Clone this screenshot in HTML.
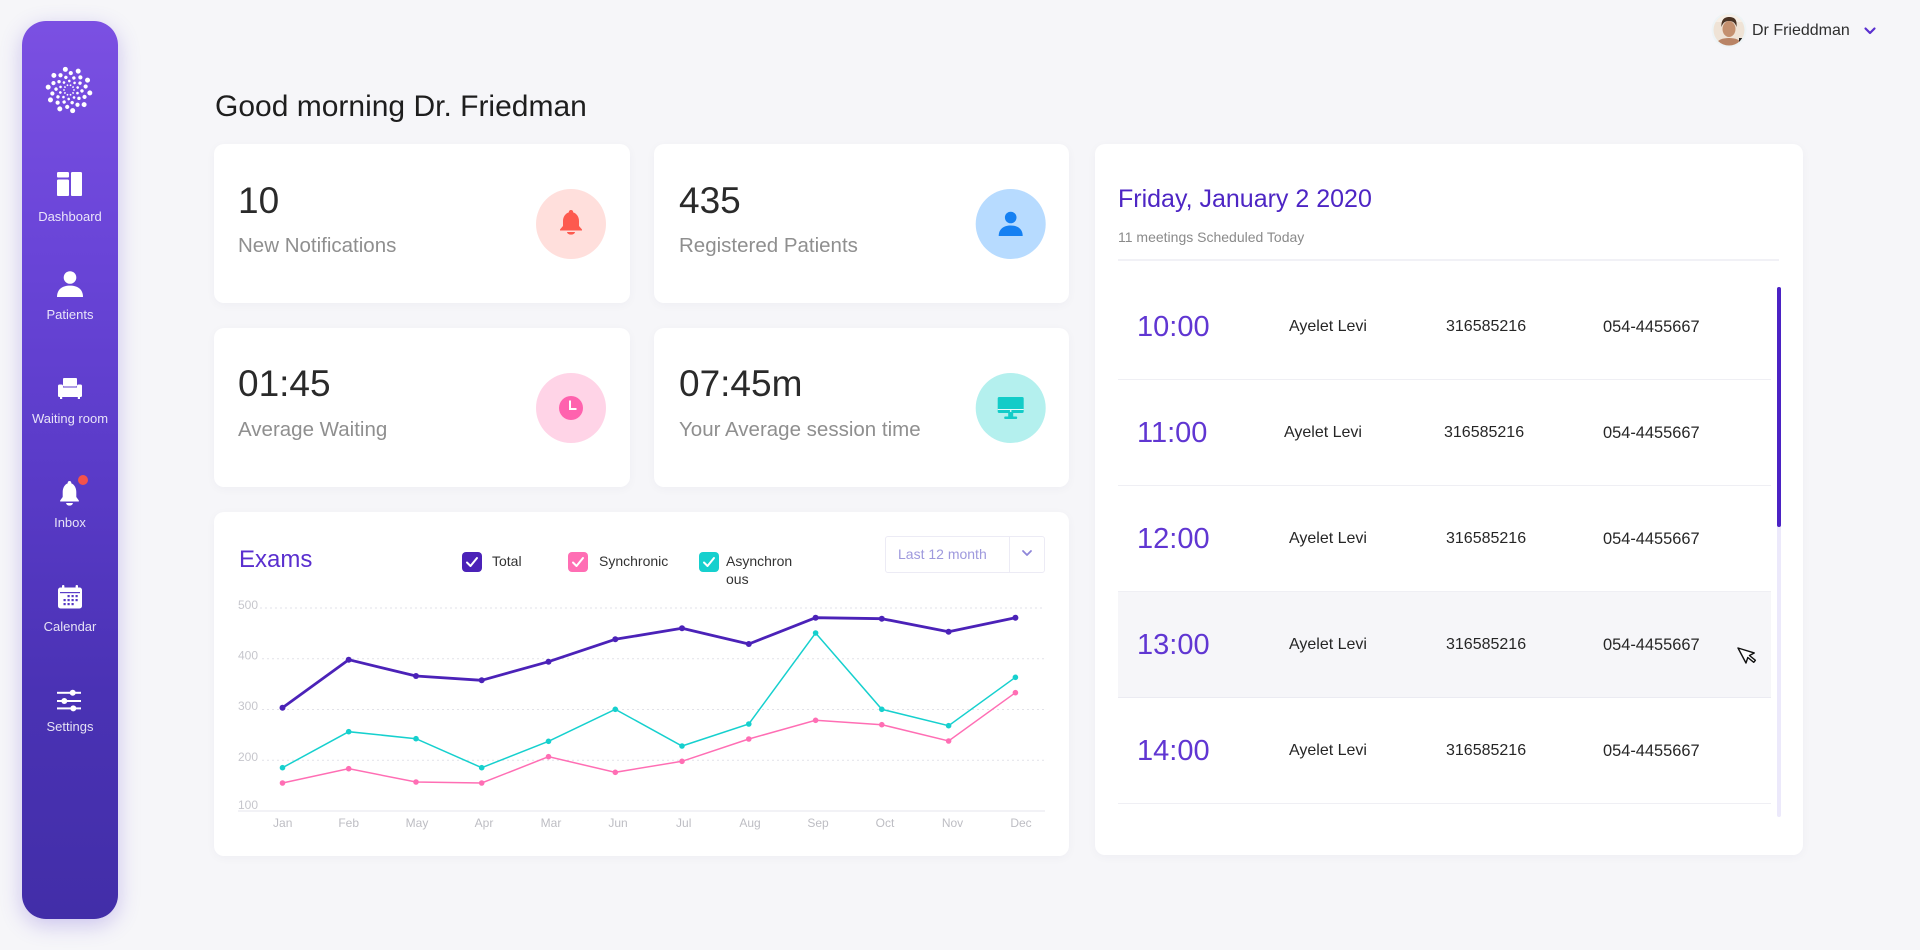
<!DOCTYPE html>
<html><head><meta charset="utf-8">
<style>
html,body{margin:0;padding:0;}
body{width:1920px;height:950px;background:#f6f6f9;position:relative;overflow:hidden;font-family:"Liberation Sans",Arial,sans-serif;}
.abs{position:absolute;}
.card{position:absolute;background:#fff;border-radius:10px;box-shadow:0 2px 10px rgba(40,40,80,0.035);}
.t{position:absolute;white-space:nowrap;line-height:1;}
.side{position:absolute;left:22px;top:21px;width:96px;height:898px;border-radius:24px;
 background:linear-gradient(180deg,#7b50e2 0%,#6a45d8 25%,#5a3bc8 50%,#4a32b4 75%,#422ea8 100%);
 box-shadow:0 6px 22px rgba(95,65,210,0.28);}
.sl{position:absolute;left:22px;width:96px;text-align:center;font-size:13px;color:rgba(255,255,255,0.86);line-height:1;}
.num{font-size:37px;color:#2a2a2a;}
.lab{font-size:20.5px;color:#8f8f8f;}
.time{font-size:29px;color:#6036d2;}
.nm{font-size:16px;color:#262626;}
.ph{font-size:16.4px;color:#262626;}
.leg{font-size:14px;color:#333;}
</style></head>
<body>
<div class="side"></div>

<!-- cards -->
<div class="card" style="left:214px;top:144px;width:416px;height:159px;"></div>
<div class="card" style="left:654px;top:144px;width:415px;height:159px;"></div>
<div class="card" style="left:214px;top:328px;width:416px;height:159px;"></div>
<div class="card" style="left:654px;top:328px;width:415px;height:159px;"></div>
<div class="card" style="left:214px;top:512px;width:855px;height:344px;"></div>
<div class="card" style="left:1095px;top:144px;width:708px;height:711px;"></div>

<!-- highlighted row -->
<div class="abs" style="left:1118px;top:591px;width:653px;height:106px;background:#f6f6f9;"></div>
<!-- row separators -->
<div class="abs" style="left:1118px;top:259px;width:661px;height:2px;background:#f1f1f6;"></div>
<div class="abs" style="left:1118px;top:379px;width:653px;height:1px;background:#efeff4;"></div>
<div class="abs" style="left:1118px;top:485px;width:653px;height:1px;background:#efeff4;"></div>
<div class="abs" style="left:1118px;top:591px;width:653px;height:1px;background:#efeff4;"></div>
<div class="abs" style="left:1118px;top:697px;width:653px;height:1px;background:#ebebf2;"></div>
<div class="abs" style="left:1118px;top:803px;width:653px;height:1px;background:#efeff4;"></div>
<!-- scrollbar -->
<div class="abs" style="left:1777px;top:287px;width:4px;height:530px;border-radius:2px;background:#ece9fb;"></div>
<div class="abs" style="left:1777px;top:287px;width:4px;height:240px;border-radius:2px;background:#4b22c4;"></div>

<!-- dropdown -->
<div class="abs" style="left:885px;top:536px;width:158px;height:35px;border:1px solid #ecebf5;border-radius:3px;background:#fff;"></div>
<div class="abs" style="left:1009px;top:537px;width:1px;height:35px;background:#ecebf5;"></div>

<svg class="abs" style="left:0;top:0;" width="1920" height="950" viewBox="0 0 1920 950">
 <!-- logo spiral -->
 <g transform="translate(69,90)" fill="#fff">
  <g><circle cx="5" cy="0" r="0.9"/><circle cx="8.46" cy="3.08" r="1.3"/><circle cx="9.96" cy="8.36" r="1.7"/><circle cx="8.5" cy="14.72" r="2.1"/><circle cx="3.65" cy="20.68" r="2.5"/></g>
  <g transform="rotate(36)"><circle cx="5" cy="0" r="0.9"/><circle cx="8.46" cy="3.08" r="1.3"/><circle cx="9.96" cy="8.36" r="1.7"/><circle cx="8.5" cy="14.72" r="2.1"/><circle cx="3.65" cy="20.68" r="2.5"/></g>
  <g transform="rotate(72)"><circle cx="5" cy="0" r="0.9"/><circle cx="8.46" cy="3.08" r="1.3"/><circle cx="9.96" cy="8.36" r="1.7"/><circle cx="8.5" cy="14.72" r="2.1"/><circle cx="3.65" cy="20.68" r="2.5"/></g>
  <g transform="rotate(108)"><circle cx="5" cy="0" r="0.9"/><circle cx="8.46" cy="3.08" r="1.3"/><circle cx="9.96" cy="8.36" r="1.7"/><circle cx="8.5" cy="14.72" r="2.1"/><circle cx="3.65" cy="20.68" r="2.5"/></g>
  <g transform="rotate(144)"><circle cx="5" cy="0" r="0.9"/><circle cx="8.46" cy="3.08" r="1.3"/><circle cx="9.96" cy="8.36" r="1.7"/><circle cx="8.5" cy="14.72" r="2.1"/><circle cx="3.65" cy="20.68" r="2.5"/></g>
  <g transform="rotate(180)"><circle cx="5" cy="0" r="0.9"/><circle cx="8.46" cy="3.08" r="1.3"/><circle cx="9.96" cy="8.36" r="1.7"/><circle cx="8.5" cy="14.72" r="2.1"/><circle cx="3.65" cy="20.68" r="2.5"/></g>
  <g transform="rotate(216)"><circle cx="5" cy="0" r="0.9"/><circle cx="8.46" cy="3.08" r="1.3"/><circle cx="9.96" cy="8.36" r="1.7"/><circle cx="8.5" cy="14.72" r="2.1"/><circle cx="3.65" cy="20.68" r="2.5"/></g>
  <g transform="rotate(252)"><circle cx="5" cy="0" r="0.9"/><circle cx="8.46" cy="3.08" r="1.3"/><circle cx="9.96" cy="8.36" r="1.7"/><circle cx="8.5" cy="14.72" r="2.1"/><circle cx="3.65" cy="20.68" r="2.5"/></g>
  <g transform="rotate(288)"><circle cx="5" cy="0" r="0.9"/><circle cx="8.46" cy="3.08" r="1.3"/><circle cx="9.96" cy="8.36" r="1.7"/><circle cx="8.5" cy="14.72" r="2.1"/><circle cx="3.65" cy="20.68" r="2.5"/></g>
  <g transform="rotate(324)"><circle cx="5" cy="0" r="0.9"/><circle cx="8.46" cy="3.08" r="1.3"/><circle cx="9.96" cy="8.36" r="1.7"/><circle cx="8.5" cy="14.72" r="2.1"/><circle cx="3.65" cy="20.68" r="2.5"/></g>
 </g>

 <!-- sidebar icons -->
 <g fill="#fff">
  <rect x="57" y="172" width="12" height="5.5" rx="1.3"/>
  <rect x="57" y="179.5" width="12" height="16.5" rx="1.3"/>
  <rect x="71" y="172" width="11" height="24" rx="1.3"/>
  <circle cx="70" cy="277.5" r="6.3"/>
  <path d="M57,297 C57,289.5 62,285.6 70,285.6 C78,285.6 83,289.5 83,297 Z"/>
  <rect x="63" y="378" width="14" height="8.5" rx="1"/>
  <rect x="58" y="387.5" width="24" height="9.5" rx="2"/>
  <rect x="58" y="384.5" width="5" height="12.5" rx="1.5"/>
  <rect x="77" y="384.5" width="5" height="12.5" rx="1.5"/>
  <rect x="60" y="396" width="2.2" height="3"/>
  <rect x="77.8" y="396" width="2.2" height="3"/>
  <g transform="translate(69.5,493) scale(0.85,1)">
   <path d="M0,-12 C1.4,-12 2.2,-11 2.2,-9.6 C5.8,-8.4 8,-5 8,-1 L8,4 L11,7.5 L11,8.5 L-11,8.5 L-11,7.5 L-8,4 L-8,-1 C-8,-5 -5.8,-8.4 -2.2,-9.6 C-2.2,-11 -1.4,-12 0,-12 Z"/>
   <path d="M-4,10 h8 a4,2.6 0 0 1 -8,0 z"/>
  </g>
  <rect x="58" y="587.5" width="24" height="21" rx="2.5"/>
  <rect x="62" y="585" width="2.4" height="5" rx="1"/>
  <rect x="75.6" y="585" width="2.4" height="5" rx="1"/>
  <rect x="57" y="691.8" width="24" height="2" />
  <rect x="57" y="700" width="24" height="2" />
  <rect x="57" y="707.4" width="24" height="2" />
  <circle cx="72.7" cy="692.8" r="3"/>
  <circle cx="64.3" cy="701" r="3"/>
  <circle cx="73.3" cy="708.4" r="3"/>
 </g>
 <g fill="#5436c4">
  <rect x="60" y="592" width="20" height="1.2" fill="#5a3cc8"/>
  <rect x="67.5" y="595" width="2.2" height="2.2"/><rect x="71.5" y="595" width="2.2" height="2.2"/><rect x="75.5" y="595" width="2.2" height="2.2"/>
  <rect x="63.5" y="599" width="2.2" height="2.2"/><rect x="67.5" y="599" width="2.2" height="2.2"/><rect x="71.5" y="599" width="2.2" height="2.2"/><rect x="75.5" y="599" width="2.2" height="2.2"/>
  <rect x="63.5" y="603" width="2.2" height="2.2"/><rect x="67.5" y="603" width="2.2" height="2.2"/><rect x="71.5" y="603" width="2.2" height="2.2"/>
 </g>
 <circle cx="83" cy="480" r="5" fill="#f4524a"/>

 <!-- header avatar -->
 <circle cx="1729" cy="30" r="17.5" fill="#eef4f6"/>
 <clipPath id="av"><circle cx="1729" cy="30" r="15.5"/></clipPath>
 <g clip-path="url(#av)">
  <rect x="1710" y="12" width="40" height="40" fill="#efe3d6"/>
  <rect x="1710" y="12" width="40" height="10" fill="#f7efe6"/>
  <path d="M1714,48 C1716,40 1722,38 1729,38 C1736,38 1742,40 1744,48 Z" fill="#b98466"/>
  <ellipse cx="1729" cy="29" rx="6.5" ry="8" fill="#c4906f"/>
  <path d="M1721.5,27 C1721,19 1725,17 1729,17 C1734,17 1737.5,19 1736.5,27 C1735,22 1732,21 1729,21 C1726,21 1723,22 1721.5,27 Z" fill="#4a3324"/>
  <rect x="1739" y="38" width="4" height="6" fill="#222"/>
 </g>
 <path d="M1865.5,28.5 L1870,33 L1874.5,28.5" fill="none" stroke="#5a2fcf" stroke-width="2.2" stroke-linecap="round" stroke-linejoin="round"/>

 <!-- stat icons -->
 <circle cx="571" cy="224" r="35" fill="#ffdfdc"/>
 <g transform="translate(571,222)" fill="#fd5a4f">
  <path d="M0,-12 C1.4,-12 2.2,-11 2.2,-9.6 C5.8,-8.4 8,-5 8,-1 L8,4 L11,7.5 L11,8.5 L-11,8.5 L-11,7.5 L-8,4 L-8,-1 C-8,-5 -5.8,-8.4 -2.2,-9.6 C-2.2,-11 -1.4,-12 0,-12 Z"/>
  <path d="M-4,10 h8 a4,2.6 0 0 1 -8,0 z"/>
 </g>
 <circle cx="1010.7" cy="224" r="35" fill="#b7dbff"/>
 <g fill="#1580f2">
  <circle cx="1010.7" cy="217.5" r="5.8"/>
  <path d="M998.7,236 C998.7,229 1003.7,225.5 1010.7,225.5 C1017.7,225.5 1022.7,229 1022.7,236 Z"/>
 </g>
 <circle cx="571" cy="408" r="35" fill="#ffd4e7"/>
 <circle cx="571" cy="408" r="12" fill="#ff62ae"/>
 <path d="M570,400.5 V409 H576.5" fill="none" stroke="#fff" stroke-width="2"/>
 <circle cx="1010.7" cy="408" r="35" fill="#b4f0ee"/>
 <g fill="#13ccc8">
  <rect x="997.7" y="397" width="26" height="16" rx="1.5"/>
  <rect x="1008.2" y="412" width="5" height="5"/>
  <rect x="1004.2" y="416.5" width="13" height="2.5" rx="1"/>
 </g>
 <rect x="997.7" y="409" width="26" height="1" fill="#e8fbfa"/>
 <circle cx="1010.7" cy="411" r="0.9" fill="#fff"/>

 <!-- legend checkboxes -->
 <rect x="462" y="552" width="20" height="20" rx="4" fill="#4b22b8"/>
 <rect x="568" y="552" width="20" height="20" rx="4" fill="#ff6eb4"/>
 <rect x="699" y="552" width="20" height="20" rx="4" fill="#16d0ce"/>
 <g fill="none" stroke="#fff" stroke-width="2" stroke-linecap="round" stroke-linejoin="round">
  <path d="M467,562.5 L470.5,566 L477,558"/>
  <path d="M573,562.5 L576.5,566 L583,558"/>
  <path d="M704,562.5 L707.5,566 L714,558"/>
 </g>
 <path d="M1023,551 L1027,555 L1031,551" fill="none" stroke="#8e86d9" stroke-width="1.8" stroke-linecap="round" stroke-linejoin="round"/>

 <!-- chart grid -->
 <g stroke="#e2e2e8" stroke-width="1" stroke-dasharray="2,3">
  <line x1="260" y1="608" x2="1045" y2="608"/>
  <line x1="262" y1="658.8" x2="1045" y2="658.8"/>
  <line x1="262" y1="709.5" x2="1045" y2="709.5"/>
  <line x1="262" y1="760.3" x2="1045" y2="760.3"/>
 </g>
 <line x1="238" y1="811" x2="1045" y2="811" stroke="#e6e6ec" stroke-width="1"/>
 <g font-family="Liberation Sans, Arial, sans-serif" font-size="12" fill="#c6c6cc">
  <text x="238" y="609">500</text>
  <text x="238" y="659.5">400</text>
  <text x="238" y="710">300</text>
  <text x="238" y="761">200</text>
  <text x="238" y="809">100</text>
 </g>
 <g font-family="Liberation Sans, Arial, sans-serif" font-size="12" fill="#bdbdc3" text-anchor="middle">
  <text x="282.7" y="827">Jan</text>
  <text x="348.7" y="827">Feb</text>
  <text x="417" y="827">May</text>
  <text x="484" y="827">Apr</text>
  <text x="551" y="827">Mar</text>
  <text x="618" y="827">Jun</text>
  <text x="683.7" y="827">Jul</text>
  <text x="750" y="827">Aug</text>
  <text x="818" y="827">Sep</text>
  <text x="885" y="827">Oct</text>
  <text x="952.5" y="827">Nov</text>
  <text x="1021" y="827">Dec</text>
 </g>
 <!-- series -->
 <polyline fill="none" stroke="#ff6eb4" stroke-width="1.5" points="282.5,783 348.7,768.7 416,782 481.7,783 548.5,756.7 615.3,772.3 682,761.3 748.8,739 815.6,720.3 881.8,724.7 948.6,741 1015.4,692.7"/>
 <polyline fill="none" stroke="#16d0ce" stroke-width="1.5" points="282.5,767.7 348.7,731.7 416,738.7 481.7,767.7 548.5,741.3 615.3,709.3 682,746 748.8,724 815.6,633 881.8,709.3 948.6,725.7 1015.4,677.3"/>
 <polyline fill="none" stroke="#4b22b8" stroke-width="2.8" stroke-linejoin="round" points="282.5,707.7 348.7,659.7 416,676 481.7,680.3 548.5,661.7 615.3,639.3 682,628.3 748.8,644 815.6,617.7 881.8,618.7 948.6,631.7 1015.4,617.7"/>
 <g fill="#ff6eb4">
  <circle cx="282.5" cy="783" r="2.8"/><circle cx="348.7" cy="768.7" r="2.8"/><circle cx="416" cy="782" r="2.8"/><circle cx="481.7" cy="783" r="2.8"/><circle cx="548.5" cy="756.7" r="2.8"/><circle cx="615.3" cy="772.3" r="2.8"/><circle cx="682" cy="761.3" r="2.8"/><circle cx="748.8" cy="739" r="2.8"/><circle cx="815.6" cy="720.3" r="2.8"/><circle cx="881.8" cy="724.7" r="2.8"/><circle cx="948.6" cy="741" r="2.8"/><circle cx="1015.4" cy="692.7" r="2.8"/>
 </g>
 <g fill="#16d0ce">
  <circle cx="282.5" cy="767.7" r="2.8"/><circle cx="348.7" cy="731.7" r="2.8"/><circle cx="416" cy="738.7" r="2.8"/><circle cx="481.7" cy="767.7" r="2.8"/><circle cx="548.5" cy="741.3" r="2.8"/><circle cx="615.3" cy="709.3" r="2.8"/><circle cx="682" cy="746" r="2.8"/><circle cx="748.8" cy="724" r="2.8"/><circle cx="815.6" cy="633" r="2.8"/><circle cx="881.8" cy="709.3" r="2.8"/><circle cx="948.6" cy="725.7" r="2.8"/><circle cx="1015.4" cy="677.3" r="2.8"/>
 </g>
 <g fill="#4b22b8">
  <circle cx="282.5" cy="707.7" r="3"/><circle cx="348.7" cy="659.7" r="3"/><circle cx="416" cy="676" r="3"/><circle cx="481.7" cy="680.3" r="3"/><circle cx="548.5" cy="661.7" r="3"/><circle cx="615.3" cy="639.3" r="3"/><circle cx="682" cy="628.3" r="3"/><circle cx="748.8" cy="644" r="3"/><circle cx="815.6" cy="617.7" r="3"/><circle cx="881.8" cy="618.7" r="3"/><circle cx="948.6" cy="631.7" r="3"/><circle cx="1015.4" cy="617.7" r="3"/>
 </g>

 <!-- cursor -->
 <g transform="translate(1738,648) rotate(-28)">
  <path d="M0,0 L0,17 L4.2,13 L7.2,20 L9.6,19 L6.6,12 L12,12 Z" fill="#fff" stroke="#111" stroke-width="1.4" stroke-linejoin="round"/>
 </g>
</svg>

<!-- sidebar labels -->
<div class="sl" style="top:210px;">Dashboard</div>
<div class="sl" style="top:308px;">Patients</div>
<div class="sl" style="top:412px;">Waiting room</div>
<div class="sl" style="top:516px;">Inbox</div>
<div class="sl" style="top:620px;">Calendar</div>
<div class="sl" style="top:720px;">Settings</div>

<!-- header -->
<div class="t" style="left:1752px;top:23px;font-size:16px;color:#2e2e2e;">Dr Frieddman</div>
<div class="t" style="left:215px;top:92px;font-size:30px;color:#1e1e1e;">Good morning Dr. Friedman</div>

<!-- stats -->
<div class="t num" style="left:238px;top:182px;">10</div>
<div class="t lab" style="left:238px;top:236px;">New Notifications</div>
<div class="t num" style="left:679px;top:182px;">435</div>
<div class="t lab" style="left:679px;top:236px;">Registered Patients</div>
<div class="t num" style="left:238px;top:365px;">01:45</div>
<div class="t lab" style="left:238px;top:420px;">Average Waiting</div>
<div class="t num" style="left:679px;top:365px;">07:45m</div>
<div class="t lab" style="left:679px;top:420px;">Your Average session time</div>

<!-- chart header -->
<div class="t" style="left:239px;top:548px;font-size:24px;color:#5a2fcf;">Exams</div>
<div class="t leg" style="left:492px;top:554px;">Total</div>
<div class="t leg" style="left:599px;top:554px;">Synchronic</div>
<div class="t leg" style="left:726px;top:554px;">Asynchron</div>
<div class="t leg" style="left:726px;top:572px;">ous</div>
<div class="t" style="left:898px;top:547px;font-size:14px;color:#9e99dd;">Last 12 month</div>

<!-- schedule -->
<div class="t" style="left:1118px;top:187px;font-size:25px;color:#4d25c4;">Friday, January 2 2020</div>
<div class="t" style="left:1118px;top:230px;font-size:14px;color:#8a8a8a;">11 meetings Scheduled Today</div>

<div class="t time" style="left:1137px;top:313px;">10:00</div>
<div class="t nm" style="left:1289px;top:319px;">Ayelet Levi</div>
<div class="t nm" style="left:1446px;top:319px;">316585216</div>
<div class="t ph" style="left:1603px;top:319px;">054-4455667</div>

<div class="t time" style="left:1137px;top:419px;">11:00</div>
<div class="t nm" style="left:1284px;top:425px;">Ayelet Levi</div>
<div class="t nm" style="left:1444px;top:425px;">316585216</div>
<div class="t ph" style="left:1603px;top:425px;">054-4455667</div>

<div class="t time" style="left:1137px;top:525px;">12:00</div>
<div class="t nm" style="left:1289px;top:531px;">Ayelet Levi</div>
<div class="t nm" style="left:1446px;top:531px;">316585216</div>
<div class="t ph" style="left:1603px;top:531px;">054-4455667</div>

<div class="t time" style="left:1137px;top:631px;">13:00</div>
<div class="t nm" style="left:1289px;top:637px;">Ayelet Levi</div>
<div class="t nm" style="left:1446px;top:637px;">316585216</div>
<div class="t ph" style="left:1603px;top:637px;">054-4455667</div>

<div class="t time" style="left:1137px;top:737px;">14:00</div>
<div class="t nm" style="left:1289px;top:743px;">Ayelet Levi</div>
<div class="t nm" style="left:1446px;top:743px;">316585216</div>
<div class="t ph" style="left:1603px;top:743px;">054-4455667</div>

</body></html>
